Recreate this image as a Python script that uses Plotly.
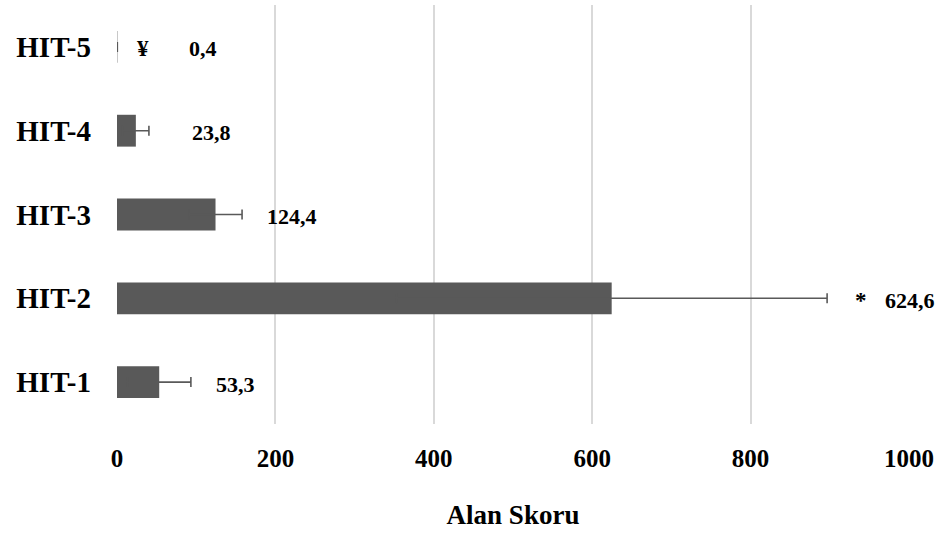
import plotly.graph_objects as go

# Alan skoru by group (mean, standard deviation)
groups = ["HIT-1", "HIT-2", "HIT-3", "HIT-4", "HIT-5"]
means = [53.3, 624.6, 124.4, 23.8, 0.4]
sds = [40.0, 272.0, 33.5, 16.5, 0.0]
marks = ["", "*", "", "", "¥"]

x_ticks = [0, 200, 400, 600, 800, 1000]

FONT = "Liberation Serif"
BAR = "#595959"

# a sub-pixel bar is drawn as a faint hairline
bar_colors = [BAR if m >= 2 else "#c8c8c8" for m in means]

# pixel offsets of the marker and value labels from the end of each error bar
mark_shift = [0, 26, 0, 0, 18]
value_shift = [23, 56, 23, 41, 70]

fig = go.Figure()
fig.add_trace(go.Bar(
    y=groups,
    x=means,
    orientation="h",
    marker=dict(color=bar_colors, line=dict(width=0)),
    error_x=dict(type="data", array=sds, visible=True, color=BAR,
                 thickness=1.6, width=5),
    hoverinfo="x+y",
))

def fmt(v):
    return f"{v:.1f}".replace(".", ",")

for g, m, s, mk, ms, vs in zip(groups, means, sds, marks, mark_shift, value_shift):
    end = m + s
    if mk:
        fig.add_annotation(x=end, y=g, xref="x", yref="y", text=f"<b>{mk}</b>",
                           showarrow=False, xanchor="left", xshift=ms, yshift=-2,
                           font=dict(family=FONT, size=23, color="#000000"))
    fig.add_annotation(x=end, y=g, xref="x", yref="y", text=f"<b>{fmt(m)}</b>",
                       showarrow=False, xanchor="left", xshift=vs, yshift=-2,
                       font=dict(family=FONT, size=22, color="#000000"))

fig.update_layout(
    width=944, height=537,
    margin=dict(l=117, r=35, t=5, b=113),
    paper_bgcolor="white", plot_bgcolor="white",
    bargap=0.62,
    showlegend=False,
    font=dict(family=FONT, color="#000000"),
    xaxis=dict(
        range=[0, 1000],
        tickvals=x_ticks,
        ticktext=[f"<b>{t}</b>" for t in x_ticks],
        tickfont=dict(family=FONT, size=25, color="#000000"),
        showgrid=True, gridcolor="#d9d9d9", gridwidth=2,
        zeroline=False, showline=False,
        ticks="", ticklabelstandoff=17,
        title=dict(text="<b>Alan Skoru</b>",
                   font=dict(family=FONT, size=27, color="#000000"),
                   standoff=34),
        automargin=False,
    ),
    yaxis=dict(
        categoryorder="array", categoryarray=groups,
        tickfont=dict(family=FONT, size=29, color="#000000"),
        ticktext=[f"<b>{g}</b>" for g in groups], tickvals=groups,
        showgrid=False, zeroline=False, showline=False,
        ticks="", ticklabelstandoff=25,
        automargin=False,
    ),
)

fig.write_html("out.html")
